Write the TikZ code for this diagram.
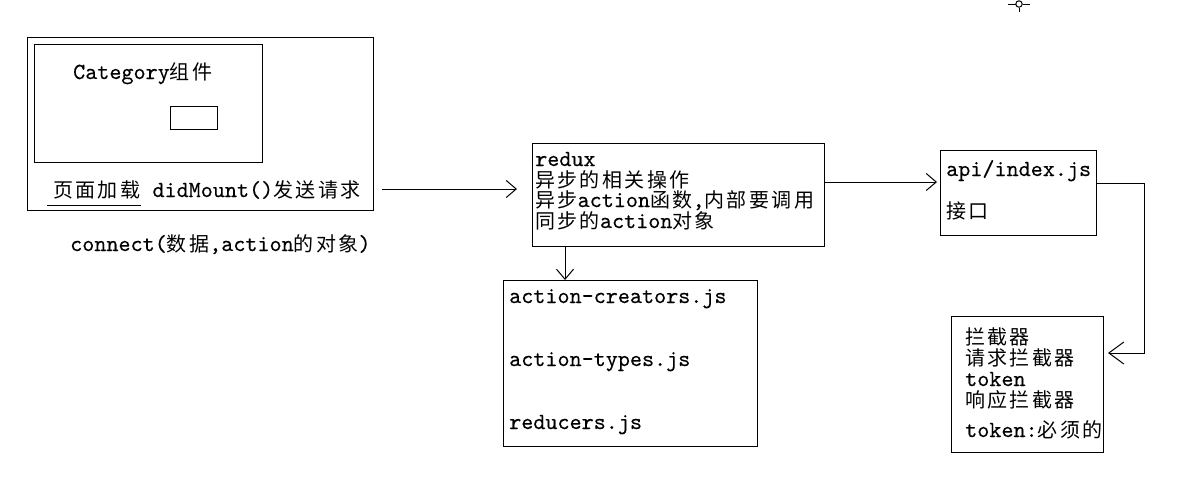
\documentclass[tikz,border=0pt]{standalone}
\usepackage{fontspec}
\setmonofont{lmmono10-regular.otf}[FakeBold=0.3]
\newfontfamily\cjkfont[LetterSpace=12]{Noto Sans CJK SC}
\newcommand{\zh}[1]{{\cjkfont\fontsize{20}{21}\selectfont #1}}
\usetikzlibrary{arrows.meta}
\begin{document}
\begin{tikzpicture}[x=1pt,y=-1pt,
  box/.style={draw=black,line width=1pt},
  txt/.style={anchor=base west,inner sep=0pt,font=\ttfamily\fontsize{23}{21}\selectfont},
  conn/.style={draw=black,line width=1pt,-{Straight Barb[length=10pt,width=17pt,line width=1pt]}},
  bigtip/.style={draw=black,line width=1pt,-{Straight Barb[length=15pt,width=22pt,line width=1pt]}}]
\useasboundingbox (0,0) rectangle (1198,493);
\fill[white] (0,0) rectangle (1198,493);
% left component
\node[box,minimum width=346pt,minimum height=173pt,inner sep=0pt,anchor=north west] (outer) at (27,37) {};
\node[box,minimum width=228pt,minimum height=118pt,inner sep=0pt,anchor=north west] (inner) at (34,44) {};
\node[box,minimum width=47pt,minimum height=23pt,inner sep=0pt,anchor=north west] (small) at (170,106) {};
\node[txt] (cat) at (73,79) {Category\zh{组件}};
\node[txt] (mount) at (53,197) {\zh{页面加载} didMount()\zh{发送请求}};
\coordinate (ul1) at (47,205);
\coordinate (ul2) at (141,205);
\draw[line width=1pt] (ul1) -- (ul2);
\node[txt] (conn) at (70,251) {connect(\zh{数据},action\zh{的对象})};
% redux box
\node[box,minimum width=292pt,minimum height=103pt,inner sep=0pt,anchor=north west] (redux) at (532,143) {};
\node[txt] (r1) at (535,166) {redux};
\node[txt] (r2) at (535,187) {\zh{异步的相关操作}};
\node[txt] (r3) at (535,207) {\zh{异步}action\zh{函数},\zh{内部要调用}};
\node[txt] (r4) at (535,228) {\zh{同步的}action\zh{对象}};
% api box
\node[box,minimum width=156pt,minimum height=85pt,inner sep=0pt,anchor=north west] (api) at (940,150) {};
\node[txt] (a1) at (946,176) {api/index.js};
\node[txt] (a2) at (946,218) {\zh{接口}};
% interceptor box
\node[box,minimum width=152pt,minimum height=136pt,inner sep=0pt,anchor=north west] (intc) at (951,316) {};
\node[txt] (i1) at (965,344) {\zh{拦截器}};
\node[txt] (i2) at (965,365) {\zh{请求拦截器}};
\node[txt] (i3) at (965,386) {token};
\node[txt] (i4) at (965,407) {\zh{响应拦截器}};
\node[txt] (i5) at (965,437) {token:\zh{必须的}};
% actions box
\node[box,minimum width=254pt,minimum height=166pt,inner sep=0pt,anchor=north west] (acts) at (503,280) {};
\node[txt] (f1) at (509,303) {action-creators.js};
\node[txt] (f2) at (509,366) {action-types.js};
\node[txt] (f3) at (509,429) {reducers.js};
% connectors
\coordinate (c1s) at (382,189);
\coordinate (c1e) at (517,189);
\draw[conn] (c1s) -- (c1e);
\draw[conn] (redux.east |- 0,182) -- ([xshift=-3pt]api.west |- 0,182);
\draw[conn] (redux.south -| 565,0) -- (acts.north -| 565,0);
\coordinate (k1) at (1144,183);
\coordinate (k2) at (1144,353);
\draw[bigtip] (api.east |- k1) -- (k1) -- (k2) -- ([xshift=4pt]intc.east |- k2);
% cursor mark
\coordinate (m) at (1019,4);
\draw[line width=1pt] (1008,4) -- (1015.5,4) (1022.5,4) -- (1030,4) (1019,7.5) -- (1019,12);
\draw[line width=1pt] (m) circle (3.2pt);
\end{tikzpicture}
\end{document}
